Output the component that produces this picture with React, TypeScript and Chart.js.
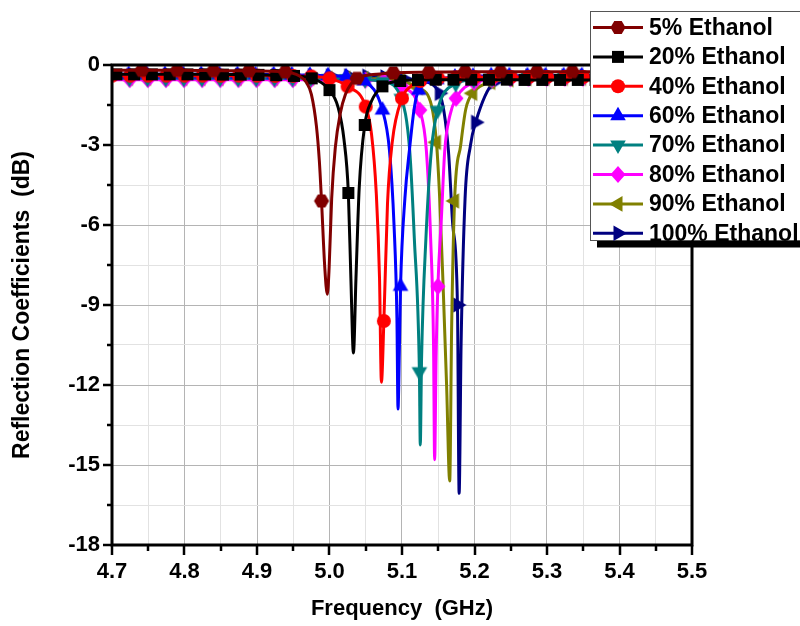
import React, { useEffect, useRef } from 'react';
import { Chart, registerables } from 'chart.js';

Chart.register(...registerables);

type Pt = [number, number];

const FONT = '"Liberation Sans", Arial, Helvetica, sans-serif';

const seriesNames = ['5% Ethanol', '20% Ethanol', '40% Ethanol', '60% Ethanol', '70% Ethanol', '80% Ethanol', '90% Ethanol', '100% Ethanol'];
const seriesColors = ['#800000', '#000000', '#ff0000', '#0000ff', '#008080', '#ff00ff', '#808000', '#000080'];
const seriesMarkers = ['hex', 'square', 'circle', 'up', 'down', 'diamond', 'left', 'right'];

const xTickLabels = ['4.7', '4.8', '4.9', '5.0', '5.1', '5.2', '5.3', '5.4', '5.5'];
const yTickLabels = ['-18', '-15', '-12', '-9', '-6', '-3', '0'];
const xTitle = 'Frequency  (GHz)';
const yTitle = 'Reflection Coefficients  (dB)';

// ---- 5% Ethanol ----
const marks5: Pt[] = [[4.741,-0.2],[4.790,-0.2],[4.840,-0.21],[4.889,-0.22],[4.939,-0.26],[4.989,-5.1],[5.038,-0.5],[5.088,-0.3],[5.137,-0.27],[5.187,-0.25],[5.236,-0.25],[5.286,-0.25],[5.335,-0.25],[5.385,-0.26],[5.434,-0.27],[5.484,-0.28]];
const shape5: Pt[] = [[4.700,-0.2],[4.958,-0.4],[4.968,-0.65],[4.975,-1.1],[4.982,-2.3],[4.986,-3.6],[4.9935,-7.6],[4.997,-8.6],[4.9995,-7.6],[5.003,-5.0],[5.008,-3.1],[5.015,-1.8],[5.022,-1.1],[5.030,-0.7],[5.060,-0.36],[5.500,-0.28]];

// ---- 20% Ethanol ----
const marks20: Pt[] = [[4.706,-0.35],[4.7305,-0.35],[4.755,-0.35],[4.7795,-0.35],[4.804,-0.35],[4.8285,-0.35],[4.853,-0.36],[4.8775,-0.36],[4.902,-0.37],[4.9265,-0.38],[4.951,-0.41],[4.9755,-0.5],[5.000,-0.94],[5.026,-4.8],[5.0486,-2.25],[5.073,-0.8],[5.0975,-0.6],[5.122,-0.56],[5.1465,-0.55],[5.171,-0.55],[5.1955,-0.55],[5.220,-0.55],[5.2445,-0.55],[5.269,-0.56],[5.2935,-0.56],[5.318,-0.56],[5.3425,-0.56],[5.367,-0.56],[5.3915,-0.56],[5.416,-0.56],[5.4405,-0.56],[5.465,-0.56],[5.4895,-0.56]];
const shape20: Pt[] = [[4.700,-0.35],[5.012,-1.6],[5.020,-2.8],[5.0295,-8.0],[5.033,-10.8],[5.0365,-8.0],[5.041,-4.6],[5.058,-1.35],[5.500,-0.56]];

// ---- 40% Ethanol ----
const marks40: Pt[] = [[4.700,-0.4],[4.725,-0.4],[4.750,-0.4],[4.775,-0.4],[4.800,-0.4],[4.825,-0.4],[4.850,-0.4],[4.875,-0.4],[4.900,-0.4],[4.925,-0.41],[4.950,-0.41],[4.975,-0.43],[5.000,-0.5],[5.025,-0.8],[5.050,-1.56],[5.075,-9.6],[5.100,-1.25],[5.125,-0.6],[5.150,-0.5],[5.175,-0.47],[5.200,-0.46],[5.225,-0.45],[5.250,-0.45],[5.275,-0.45],[5.300,-0.45],[5.325,-0.45],[5.350,-0.45],[5.375,-0.45],[5.400,-0.45],[5.425,-0.45],[5.450,-0.45],[5.475,-0.45],[5.500,-0.45]];
const shape40: Pt[] = [[5.058,-2.6],[5.0645,-4.8],[5.069,-8.0],[5.0716,-11.9],[5.080,-5.2],[5.0865,-2.9],[5.112,-0.8]];

// ---- 60% Ethanol ----
const marks60: Pt[] = [[4.723,-0.35],[4.748,-0.35],[4.773,-0.35],[4.798,-0.35],[4.823,-0.35],[4.848,-0.35],[4.873,-0.35],[4.898,-0.36],[4.923,-0.36],[4.948,-0.37],[4.973,-0.38],[4.998,-0.4],[5.023,-0.44],[5.048,-0.6],[5.073,-1.69],[5.098,-8.3],[5.123,-0.95],[5.148,-0.55],[5.173,-0.45],[5.198,-0.42],[5.223,-0.4],[5.248,-0.4],[5.273,-0.4],[5.298,-0.4],[5.323,-0.4],[5.348,-0.4],[5.373,-0.4],[5.398,-0.4],[5.423,-0.4],[5.448,-0.4],[5.473,-0.4],[5.498,-0.4]];
const shape60: Pt[] = [[4.700,-0.35],[5.0827,-3.2],[5.089,-6.0],[5.093,-9.5],[5.0945,-12.9],[5.0963,-10.8],[5.104,-5.0],[5.1106,-3.1],[5.117,-1.6],[5.500,-0.4]];

// ---- 70% Ethanol ----
const marks70: Pt[] = [[4.724,-0.5],[4.749,-0.5],[4.774,-0.5],[4.799,-0.5],[4.824,-0.5],[4.849,-0.5],[4.874,-0.5],[4.899,-0.5],[4.924,-0.5],[4.949,-0.5],[4.974,-0.5],[4.999,-0.51],[5.024,-0.52],[5.049,-0.55],[5.074,-0.62],[5.099,-1.25],[5.124,-11.5],[5.149,-1.7],[5.174,-0.7],[5.199,-0.55],[5.224,-0.5],[5.249,-0.47],[5.274,-0.45],[5.299,-0.45],[5.324,-0.45],[5.349,-0.45],[5.374,-0.45],[5.399,-0.45],[5.424,-0.45],[5.449,-0.45],[5.474,-0.45],[5.499,-0.45]];
const shape70: Pt[] = [[4.700,-0.5],[5.1106,-3.2],[5.117,-6.5],[5.1252,-14.25],[5.127,-11.0],[5.133,-6.5],[5.1405,-3.2],[5.500,-0.45]];

// ---- 80% Ethanol ----
const marks80: Pt[] = [[4.7245,-0.55],[4.7495,-0.55],[4.7745,-0.55],[4.7995,-0.55],[4.8245,-0.55],[4.8495,-0.55],[4.8745,-0.55],[4.8995,-0.55],[4.9245,-0.55],[4.9495,-0.55],[4.9745,-0.55],[4.9995,-0.55],[5.0245,-0.56],[5.0495,-0.57],[5.0745,-0.6],[5.0995,-0.8],[5.1245,-1.69],[5.1495,-8.3],[5.1745,-1.25],[5.1995,-0.65],[5.2245,-0.55],[5.2495,-0.52],[5.2745,-0.5],[5.2995,-0.5],[5.3245,-0.5],[5.3495,-0.5],[5.3745,-0.5],[5.3995,-0.5],[5.4245,-0.5],[5.4495,-0.5],[5.4745,-0.5],[5.4995,-0.5]];
const shape80: Pt[] = [[4.700,-0.55],[5.1336,-3.2],[5.1395,-6.5],[5.1435,-10.5],[5.145,-14.8],[5.147,-11.0],[5.1544,-5.7],[5.159,-3.2],[5.166,-1.9],[5.500,-0.5]];

// ---- 90% Ethanol ----
const marks90: Pt[] = [[4.7225,-0.5],[4.7475,-0.5],[4.7725,-0.5],[4.7975,-0.5],[4.8225,-0.5],[4.8475,-0.5],[4.8725,-0.5],[4.8975,-0.5],[4.9225,-0.5],[4.9475,-0.5],[4.9725,-0.5],[4.9975,-0.5],[5.0225,-0.5],[5.0475,-0.51],[5.0725,-0.52],[5.0975,-0.6],[5.1225,-0.85],[5.1475,-2.9],[5.1725,-5.1],[5.1975,-1.06],[5.2225,-0.65],[5.2475,-0.55],[5.2725,-0.5],[5.2975,-0.5],[5.3225,-0.5],[5.3475,-0.5],[5.3725,-0.5],[5.3975,-0.5],[5.4225,-0.5],[5.4475,-0.5],[5.4725,-0.5],[5.4975,-0.5]];
const shape90: Pt[] = [[4.700,-0.5],[5.1405,-1.5],[5.152,-5.0],[5.157,-8.5],[5.1615,-12.0],[5.1658,-15.6],[5.1685,-9.8],[5.181,-3.0],[5.188,-1.65],[5.500,-0.5]];

// ---- 100% Ethanol ----
const marks100: Pt[] = [[4.7015,-0.4],[4.7265,-0.4],[4.7515,-0.4],[4.7765,-0.4],[4.8015,-0.4],[4.8265,-0.4],[4.8515,-0.4],[4.8765,-0.4],[4.9015,-0.4],[4.9265,-0.4],[4.9515,-0.4],[4.9765,-0.4],[5.0015,-0.41],[5.0265,-0.41],[5.0515,-0.42],[5.0765,-0.45],[5.1015,-0.5],[5.1265,-0.6],[5.1515,-1.06],[5.1765,-9.0],[5.2015,-2.15],[5.2265,-0.65],[5.2515,-0.45],[5.2765,-0.42],[5.3015,-0.42],[5.3265,-0.42],[5.3515,-0.42],[5.3765,-0.42],[5.4015,-0.42],[5.4265,-0.42],[5.4515,-0.42],[5.4765,-0.42]];
const shape100: Pt[] = [[4.700,-0.4],[5.164,-3.2],[5.170,-6.0],[5.1788,-16.06],[5.1815,-10.5],[5.187,-5.0],[5.1945,-3.0],[5.500,-0.42]];

const seriesMarks: Pt[][] = [marks5, marks20, marks40, marks60, marks70, marks80, marks90, marks100];
const seriesShape: Pt[][] = [shape5, shape20, shape40, shape60, shape70, shape80, shape90, shape100];

function drawMarker(ctx: CanvasRenderingContext2D, kind: string, x: number, y: number, color: string) {
  ctx.save();
  ctx.fillStyle = color;
  ctx.beginPath();
  if (kind === 'hex') {
    const r = 7.5;
    for (let i = 0; i < 6; i++) {
      const a = (i * Math.PI) / 3;
      const px = x + r * Math.cos(a);
      const py = y + r * Math.sin(a);
      if (i === 0) ctx.moveTo(px, py); else ctx.lineTo(px, py);
    }
    ctx.closePath();
  } else if (kind === 'square') {
    ctx.rect(x - 6, y - 6, 12, 12);
  } else if (kind === 'circle') {
    ctx.arc(x, y, 7, 0, Math.PI * 2);
  } else if (kind === 'up' || kind === 'down' || kind === 'left' || kind === 'right') {
    const r = 9;
    const h = r * 0.866;
    const s = r * 0.5;
    if (kind === 'up') { ctx.moveTo(x, y - r); ctx.lineTo(x + h, y + s); ctx.lineTo(x - h, y + s); }
    if (kind === 'down') { ctx.moveTo(x, y + r); ctx.lineTo(x + h, y - s); ctx.lineTo(x - h, y - s); }
    if (kind === 'left') { ctx.moveTo(x - r, y); ctx.lineTo(x + s, y - h); ctx.lineTo(x + s, y + h); }
    if (kind === 'right') { ctx.moveTo(x + r, y); ctx.lineTo(x - s, y - h); ctx.lineTo(x - s, y + h); }
    ctx.closePath();
  } else if (kind === 'diamond') {
    ctx.moveTo(x, y - 8.5); ctx.lineTo(x + 7.5, y); ctx.lineTo(x, y + 8.5); ctx.lineTo(x - 7.5, y);
    ctx.closePath();
  }
  ctx.fill();
  ctx.restore();
}

function markerImage(kind: string, color: string) {
  const c = document.createElement('canvas');
  c.width = 24;
  c.height = 24;
  const g = c.getContext('2d');
  if (g) drawMarker(g, kind, 12, 12, color);
  return c;
}

const framePlugin = {
  id: 'frameTicks',
  afterDatasetsDraw(chart: any) {
    const { ctx, chartArea } = chart;
    const { left, right, top, bottom } = chartArea;
    const xs = chart.scales.x;
    const ys = chart.scales.y;
    ctx.save();
    ctx.strokeStyle = '#000';
    ctx.lineWidth = 2.5;
    ctx.beginPath();
    xs.ticks.forEach((t: any, i: number) => {
      const px = Math.round(xs.getPixelForValue(t.value));
      const len = i % 2 === 0 ? 10 : 6;
      ctx.moveTo(px, bottom);
      ctx.lineTo(px, bottom + len);
    });
    ys.ticks.forEach((t: any, i: number) => {
      const py = Math.round(ys.getPixelForValue(t.value));
      const len = i % 2 === 0 ? 9 : 5;
      ctx.moveTo(left, py);
      ctx.lineTo(left - len, py);
    });
    ctx.stroke();
    ctx.lineWidth = 3;
    ctx.strokeRect(left, top, right - left, bottom - top);
    ctx.restore();
  },
};

const legendPlugin = {
  id: 'boxLegend',
  afterDraw(chart: any) {
    const { ctx } = chart;
    const bx = 590.5, by = 11.5, bw = 220, bh = 229;
    ctx.save();
    ctx.fillStyle = '#000';
    ctx.fillRect(597, by + bh, 210, 7);
    ctx.fillStyle = '#fff';
    ctx.fillRect(bx, by, bw, bh);
    ctx.strokeStyle = '#555';
    ctx.lineWidth = 1;
    ctx.strokeRect(bx, by, bw, bh);
    ctx.font = `bold 23px ${FONT}`;
    ctx.textBaseline = 'middle';
    ctx.textAlign = 'left';
    seriesNames.forEach((name, i) => {
      const cy = 27.5 + i * 29.4;
      ctx.strokeStyle = seriesColors[i];
      ctx.lineWidth = 3;
      ctx.beginPath();
      ctx.moveTo(593, cy);
      ctx.lineTo(643, cy);
      ctx.stroke();
      drawMarker(ctx, seriesMarkers[i], 618, cy, seriesColors[i]);
      ctx.fillStyle = '#000';
      ctx.fillText(name, 649, cy + 1);
    });
    ctx.restore();
  },
};

function buildTicks(labels: string[]) {
  const majors = labels.map(Number);
  const out: { value: number }[] = [];
  majors.forEach((v, i) => {
    out.push({ value: v });
    if (i < majors.length - 1) out.push({ value: (v + majors[i + 1]) / 2 });
  });
  return out;
}

export default function App() {
  const ref = useRef<HTMLCanvasElement | null>(null);

  useEffect(() => {
    if (!ref.current) return;
    Chart.defaults.font.family = FONT;
    Chart.defaults.color = '#000';

    const datasets: any[] = [];
    seriesNames.forEach((name, i) => {
      const curve = [...seriesMarks[i], ...seriesShape[i]]
        .slice()
        .sort((a, b) => a[0] - b[0])
        .map(([x, y]) => ({ x, y }));
      datasets.push({
        label: name + ' symbols',
        data: seriesMarks[i].map(([x, y]) => ({ x, y })),
        showLine: false,
        pointStyle: markerImage(seriesMarkers[i], seriesColors[i]),
        pointRadius: 8,
        pointHoverRadius: 8,
        borderWidth: 0,
        order: 2 * i,
      });
      datasets.push({
        label: name,
        data: curve,
        borderColor: seriesColors[i],
        borderWidth: 3,
        pointRadius: 0,
        pointHoverRadius: 0,
        fill: false,
        cubicInterpolationMode: 'monotone',
        order: 2 * i + 1,
      });
    });

    const gridColor = (c: any) => (c.index % 2 === 0 ? '#b4b4b4' : '#e2e2e2');

    const chart = new Chart(ref.current, {
      type: 'line',
      data: { datasets },
      options: {
        animation: false,
        responsive: false,
        devicePixelRatio: 1,
        events: [],
        layout: { padding: { top: 65, right: 108, left: 0, bottom: 0 } },
        plugins: { legend: { display: false }, tooltip: { enabled: false } },
        scales: {
          x: {
            type: 'linear',
            min: 4.7,
            max: 5.5,
            afterBuildTicks: (s: any) => { s.ticks = buildTicks(xTickLabels); },
            afterFit: (s: any) => { s.height = 81; },
            border: { display: false },
            grid: { color: gridColor, lineWidth: 1, drawTicks: false },
            ticks: {
              autoSkip: false,
              maxRotation: 0,
              padding: 14,
              font: { size: 22, weight: 'bold', family: FONT },
              color: '#000',
              callback: (_v: any, i: number) => (i % 2 === 0 ? xTickLabels[i / 2] : ''),
            },
            title: {
              display: true,
              text: xTitle,
              color: '#000',
              font: { size: 22, weight: 'bold', family: FONT },
              padding: { top: 0, bottom: 4 },
            },
          },
          y: {
            type: 'linear',
            min: -18,
            max: 0,
            afterBuildTicks: (s: any) => { s.ticks = buildTicks(yTickLabels); },
            afterFit: (s: any) => { s.width = 112; },
            border: { display: false },
            grid: { color: gridColor, lineWidth: 1, drawTicks: false },
            ticks: {
              autoSkip: false,
              padding: 12,
              font: { size: 22, weight: 'bold', family: FONT },
              color: '#000',
              callback: (_v: any, i: number) => (i % 2 === 0 ? yTickLabels[i / 2] : ''),
            },
            title: {
              display: true,
              text: yTitle,
              color: '#000',
              font: { size: 23, weight: 'bold', family: FONT },
              padding: { top: 9, bottom: 0 },
            },
          },
        },
      } as any,
      plugins: [framePlugin, legendPlugin],
    });

    return () => chart.destroy();
  }, []);

  return (
    <div style={{ position: 'fixed', left: 0, top: 0, width: 800, height: 626, background: '#fff' }}>
      <canvas ref={ref} width={800} height={626} style={{ display: 'block', width: 800, height: 626 }} />
    </div>
  );
}
